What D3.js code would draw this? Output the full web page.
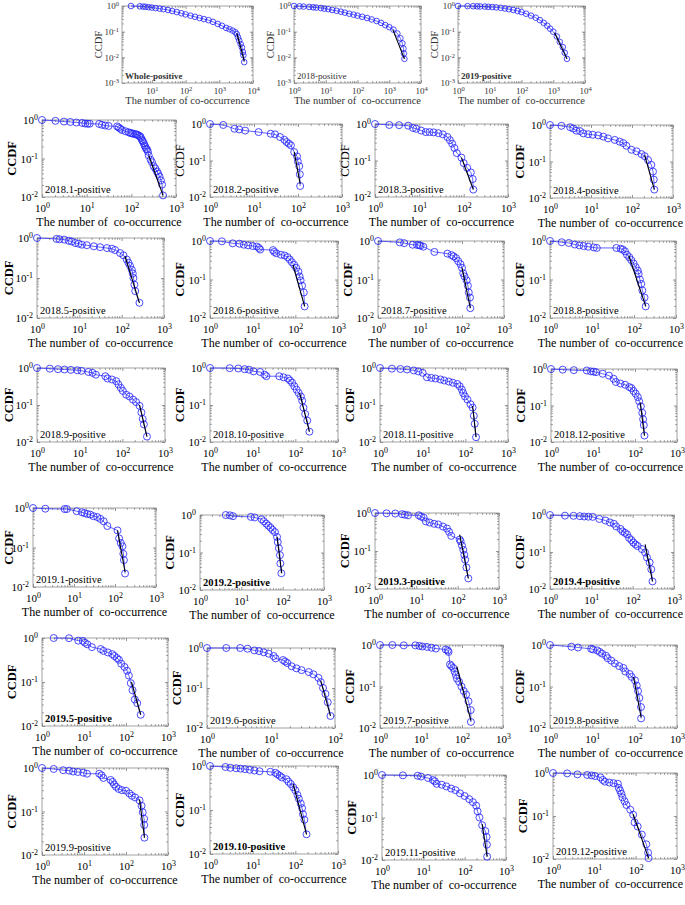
<!DOCTYPE html>
<html>
<head>
<meta charset="utf-8">
<script src="https://d3js.org/d3.v7.min.js"></script>
<style>
  body { margin: 0; background: #fff; }
  svg { display: block; }
  svg text { font-family: "Liberation Serif", "Times New Roman", serif; }
  .frame { fill: none; stroke: #8a8a8a; stroke-width: 0.8; }
  .tick line, .minor { stroke: #666; stroke-width: 0.7; }
  .domain { display: none; }
  .ccdf-pts { fill: none; stroke: #1f1fff; stroke-width: 0.8; }
  .ccdf-line { fill: none; stroke: #1f1fff; stroke-width: 0.7; }
  .fit { stroke: #000; stroke-width: 1.1; }
  .xtitle { white-space: pre; }
</style>
</head>
<body>
<script>
// panel names (in reading order)
const panelNames = ["Whole-positive", "2018-positive", "2019-positive",
  "2018.1-positive", "2018.2-positive", "2018.3-positive", "2018.4-positive",
  "2018.5-positive", "2018.6-positive", "2018.7-positive", "2018.8-positive",
  "2018.9-positive", "2018.10-positive", "2018.11-positive", "2018.12-positive",
  "2019.1-positive", "2019.2-positive", "2019.3-positive", "2019.4-positive",
  "2019.5-positive", "2019.6-positive", "2019.7-positive", "2019.8-positive",
  "2019.9-positive", "2019.10-positive", "2019.11-positive", "2019.12-positive"];

// CCDF points, [number of co-occurrence, CCDF]
const whole = [[2.4,1],[4.4,0.97],[5.5,0.95],[6.5,0.93],[8,0.9],[10,0.87],[13,0.83],[17,0.79],[22,0.75],[30,0.7],[40,0.64],[55,0.58],[75,0.52],[100,0.47],[140,0.42],[190,0.38],[260,0.34],[350,0.31],[480,0.28],[650,0.24],[900,0.2],[1200,0.17],[1600,0.14],[2000,0.125],[2500,0.11],[3000,0.095],[3300,0.08],[3600,0.06],[3900,0.045],[4300,0.033],[4700,0.024],[5000,0.016],[5200,0.012],[5500,0.0065]];
const y2018 = [[1,1],[1.5,0.97],[2,0.95],[3,0.92],[4,0.89],[5,0.87],[7,0.83],[9,0.79],[12,0.75],[16,0.7],[22,0.65],[30,0.6],[40,0.55],[55,0.5],[75,0.46],[100,0.42],[140,0.38],[200,0.34],[280,0.3],[400,0.26],[550,0.22],[750,0.18],[1000,0.15],[1350,0.12],[1800,0.085],[2250,0.055],[2600,0.035],[2800,0.022],[2900,0.014],[3000,0.0087]];
const y2019 = [[1,1],[2,0.99],[3,0.98],[4,0.97],[5,0.96],[7,0.95],[9,0.93],[12,0.91],[16,0.88],[22,0.85],[30,0.8],[40,0.75],[55,0.7],[75,0.64],[100,0.58],[140,0.5],[200,0.42],[280,0.35],[380,0.28],[500,0.22],[650,0.17],[800,0.13],[1000,0.1],[1300,0.065],[1600,0.04],[2000,0.025],[2300,0.015],[2700,0.0087]];
const m2018_1 = [[1,1],[2,0.95],[3.1,0.91],[4.3,0.89],[5.9,0.86],[7.9,0.84],[9.3,0.81],[10.5,0.8],[11.7,0.8],[19,0.79],[22,0.75],[26,0.72],[31,0.7],[48,0.68],[52,0.64],[57,0.59],[62,0.55],[74,0.51],[87,0.48],[95,0.46],[103,0.45],[110,0.44],[123,0.43],[130,0.42],[138,0.41],[150,0.39],[159,0.37],[165,0.34],[174,0.3],[180,0.28],[190,0.25],[198,0.22],[206,0.2],[215,0.18],[225,0.17],[235,0.15],[245,0.12],[270,0.093],[290,0.08],[316,0.063],[345,0.055],[375,0.046],[400,0.04],[428,0.034],[460,0.027],[488,0.021],[513,0.011]];
const m2018_2 = [[1,1],[2,0.94],[3.6,0.74],[4.6,0.71],[6.3,0.66],[12.7,0.6],[24,0.54],[30,0.52],[39,0.44],[49,0.37],[55,0.32],[62,0.29],[69,0.26],[82,0.17],[95,0.13],[99,0.095],[107,0.07],[110,0.042],[112,0.02]];
const m2018_3 = [[1,1],[2.1,0.94],[3.5,0.93],[5.6,0.9],[7.2,0.78],[8.5,0.74],[11,0.66],[14,0.6],[17,0.6],[21,0.59],[27,0.56],[34,0.52],[43,0.44],[49,0.36],[55,0.29],[62,0.22],[70,0.16],[89,0.12],[100,0.085],[120,0.063],[145,0.047],[160,0.031],[165,0.016]];
const m2018_4 = [[1,1],[1.9,0.95],[3.1,0.87],[3.7,0.8],[4.4,0.7],[5.4,0.68],[6.5,0.59],[8.5,0.56],[11,0.54],[15,0.52],[20,0.48],[26,0.43],[38,0.39],[50,0.35],[61,0.32],[73,0.27],[97,0.21],[129,0.19],[170,0.16],[204,0.14],[246,0.11],[296,0.081],[325,0.053],[340,0.032],[350,0.017]];
const m2018_5 = [[1,1],[2.9,0.95],[3.4,0.93],[4.4,0.91],[5.6,0.85],[6.6,0.82],[8,0.75],[9.6,0.72],[11.5,0.68],[15,0.66],[22,0.62],[31,0.59],[45,0.56],[59,0.54],[70,0.5],[92,0.42],[110,0.37],[132,0.29],[145,0.24],[158,0.2],[174,0.16],[183,0.13],[190,0.1],[200,0.068],[209,0.047],[263,0.024]];
const m2018_6 = [[1,1],[1.9,0.98],[3.4,0.87],[4.9,0.85],[6.2,0.8],[7.8,0.77],[10,0.74],[12.5,0.72],[14,0.66],[15,0.6],[30,0.58],[32,0.52],[36,0.48],[46,0.44],[56,0.42],[66,0.38],[74,0.33],[83,0.28],[94,0.24],[105,0.2],[118,0.16],[126,0.12],[133,0.095],[144,0.069],[158,0.046],[165,0.02]];
const m2018_7 = [[1,1],[3.3,0.92],[4.2,0.88],[6.7,0.8],[8.5,0.79],[9.6,0.78],[10.3,0.76],[12,0.71],[22,0.52],[45,0.47],[56,0.43],[63,0.4],[72,0.36],[81,0.3],[92,0.25],[100,0.2],[107,0.145],[115,0.12],[129,0.095],[138,0.069],[145,0.046],[155,0.034],[158,0.018]];
const m2018_8 = [[1,1],[1.9,0.93],[2.8,0.89],[3.9,0.81],[5,0.77],[6.3,0.74],[8.1,0.71],[11,0.68],[13,0.66],[38,0.66],[48,0.63],[54,0.6],[61,0.54],[68,0.44],[77,0.38],[86,0.32],[98,0.26],[110,0.21],[123,0.17],[129,0.14],[138,0.1],[149,0.077],[158,0.052],[178,0.034],[190,0.02]];
const m2018_9 = [[1,1],[2,0.96],[3.1,0.93],[4.4,0.91],[6.2,0.89],[8.8,0.87],[11,0.84],[16,0.78],[20,0.74],[24,0.66],[40,0.6],[45,0.52],[57,0.49],[72,0.44],[81,0.36],[92,0.29],[103,0.24],[123,0.19],[147,0.17],[178,0.14],[210,0.12],[253,0.095],[280,0.063],[300,0.042],[320,0.03],[378,0.014]];
const m2018_10 = [[1,1],[2.9,0.99],[4.6,0.97],[6.5,0.93],[8.2,0.9],[10.5,0.81],[15,0.78],[19,0.66],[21,0.6],[42,0.6],[53,0.56],[67,0.52],[75,0.46],[84,0.4],[95,0.32],[107,0.26],[120,0.21],[135,0.17],[145,0.13],[155,0.085],[170,0.057],[190,0.038],[214,0.019]];
const m2018_11 = [[1,1],[1.9,0.96],[3,0.94],[4.3,0.91],[6.2,0.86],[7.9,0.81],[10,0.74],[12.6,0.56],[16,0.54],[20,0.52],[26,0.49],[32,0.46],[41,0.43],[51,0.4],[65,0.37],[74,0.32],[83,0.26],[89,0.21],[98,0.17],[112,0.14],[132,0.105],[148,0.085],[158,0.051],[166,0.031],[178,0.0135]];
const m2018_12 = [[1,1],[1.9,0.96],[3.5,0.93],[7.1,0.91],[8.9,0.86],[10.3,0.85],[11.8,0.82],[17,0.74],[24,0.66],[31,0.54],[35,0.44],[45,0.4],[58,0.37],[73,0.32],[82,0.3],[92,0.25],[104,0.21],[117,0.17],[126,0.13],[138,0.095],[149,0.063],[156,0.042],[162,0.029],[168,0.015]];
const m2019_1 = [[1,1],[2,0.96],[5.9,0.94],[6.7,0.94],[11.6,0.83],[15.6,0.78],[18,0.74],[21,0.71],[25,0.68],[30,0.62],[37,0.59],[44,0.53],[53,0.46],[65,0.35],[115,0.27],[126,0.17],[138,0.13],[152,0.107],[160,0.069],[165,0.048],[176,0.022]];
const m2019_2 = [[4.2,1],[5.3,0.98],[6.3,0.93],[17,0.89],[21,0.86],[31,0.77],[35,0.68],[40,0.59],[45,0.52],[51,0.46],[57,0.4],[65,0.35],[73,0.26],[76,0.19],[81,0.13],[86,0.085],[88,0.051],[93,0.028]];
const m2019_3 = [[1,1],[1.9,0.98],[3.1,0.97],[4.5,0.93],[5.3,0.9],[6.3,0.87],[11.5,0.87],[13,0.8],[15,0.76],[17,0.6],[21,0.56],[27,0.52],[34,0.5],[44,0.44],[55,0.39],[62,0.32],[70,0.25],[112,0.2],[118,0.18],[127,0.14],[137,0.107],[145,0.079],[152,0.059],[163,0.037],[181,0.019]];
const m2019_4 = [[1,1],[2.3,0.96],[3.7,0.95],[5.3,0.93],[6.7,0.91],[8.5,0.9],[10.8,0.89],[15.6,0.78],[22,0.71],[28,0.63],[35,0.58],[40,0.49],[51,0.42],[57,0.36],[65,0.33],[73,0.3],[82,0.24],[93,0.21],[104,0.18],[117,0.16],[132,0.145],[167,0.12],[200,0.097],[222,0.071],[257,0.052],[282,0.034],[302,0.016]];
const m2019_5 = [[1.9,1],[4.4,0.99],[7.3,0.87],[9.4,0.86],[10.5,0.78],[12,0.72],[15.4,0.62],[25,0.56],[29,0.51],[37,0.47],[47,0.43],[53,0.39],[61,0.35],[68,0.32],[77,0.26],[92,0.22],[106,0.18],[117,0.14],[130,0.094],[143,0.065],[162,0.04],[185,0.033],[224,0.018]];
const m2019_6 = [[1,1],[2,1],[3.3,1],[4.3,0.96],[5.5,0.87],[6.5,0.84],[7.7,0.78],[9.2,0.72],[11,0.63],[11.8,0.55],[15.4,0.5],[16.6,0.46],[18,0.42],[21,0.35],[25,0.31],[30,0.28],[39,0.25],[46,0.22],[55,0.18],[60,0.14],[65,0.1],[71,0.071],[77,0.044],[85,0.02]];
const m2019_7 = [[1,1],[2,1],[3.8,0.98],[7.3,0.98],[9.1,0.95],[10.8,0.92],[14,0.9],[18,0.86],[23,0.82],[40,0.78],[45,0.74],[47,0.68],[51,0.34],[55,0.31],[61,0.28],[66,0.23],[71,0.19],[75,0.155],[85,0.13],[97,0.1],[110,0.078],[126,0.064],[144,0.044],[163,0.027],[165,0.014]];
const m2019_8 = [[1,1],[3.2,0.91],[4.6,0.87],[9.4,0.81],[10.4,0.78],[13,0.74],[15,0.68],[17,0.62],[21,0.55],[23,0.48],[28,0.42],[34,0.36],[43,0.31],[54,0.28],[60,0.23],[76,0.2],[85,0.17],[102,0.14],[112,0.105],[120,0.078],[129,0.053],[141,0.032],[142,0.017]];
const m2019_9 = [[1,1],[1.9,0.95],[3.2,0.89],[4.4,0.87],[5.5,0.83],[7.1,0.81],[9.6,0.78],[11.8,0.74],[23,0.74],[26,0.68],[29,0.59],[43,0.53],[48,0.48],[52,0.42],[58,0.37],[67,0.33],[80,0.31],[100,0.3],[120,0.26],[138,0.23],[165,0.21],[210,0.18],[235,0.135],[250,0.096],[270,0.068],[272,0.049],[275,0.025]];
const m2019_10 = [[1,1],[2.3,0.95],[3,0.91],[4.1,0.89],[5.2,0.87],[6.6,0.85],[8.5,0.82],[11,0.79],[14.5,0.76],[26,0.74],[34,0.7],[38,0.65],[43,0.6],[48,0.55],[62,0.5],[69,0.44],[78,0.39],[89,0.33],[100,0.28],[112,0.22],[121,0.18],[134,0.14],[144,0.11],[151,0.08],[163,0.06],[183,0.028]];
const m2019_11 = [[1,1],[3.2,0.98],[7.3,0.96],[8.8,0.92],[13,0.85],[17,0.76],[19,0.71],[21,0.62],[28,0.59],[36,0.54],[47,0.48],[60,0.44],[77,0.37],[100,0.32],[129,0.27],[158,0.23],[190,0.19],[205,0.14],[228,0.1],[265,0.066],[316,0.048],[340,0.035],[345,0.023],[350,0.012]];
const m2019_12 = [[1,1],[2.2,0.98],[3.9,0.93],[6.7,0.9],[8.6,0.88],[10.4,0.85],[14,0.79],[16,0.69],[18,0.63],[23,0.6],[29,0.58],[37,0.56],[39,0.45],[42,0.39],[45,0.33],[48,0.27],[54,0.22],[60,0.18],[74,0.14],[87,0.107],[94,0.071],[112,0.057],[141,0.037],[181,0.022],[200,0.014],[205,0.0105]];

const series = [whole, y2018, y2019,
  m2018_1, m2018_2, m2018_3, m2018_4, m2018_5, m2018_6, m2018_7, m2018_8,
  m2018_9, m2018_10, m2018_11, m2018_12,
  m2019_1, m2019_2, m2019_3, m2019_4, m2019_5, m2019_6, m2019_7, m2019_8,
  m2019_9, m2019_10, m2019_11, m2019_12];

// power-law fit segments [x0, y0, x1, y1]
const fits = [[3300,0.087,5500,0.0072],[1300,0.12,3000,0.0087],[1100,0.09,2700,0.0087],
  [245,0.12,513,0.011],[82,0.17,112,0.023],[89,0.12,165,0.016],[204,0.15,350,0.017],
  [120,0.35,263,0.024],[88,0.24,165,0.02],[100,0.2,158,0.018],[75,0.42,190,0.02],
  [253,0.1,378,0.014],[126,0.21,214,0.019],[148,0.095,178,0.0135],[133,0.12,168,0.015],
  [115,0.27,176,0.024],[73,0.26,95,0.028],[112,0.27,181,0.019],[200,0.16,302,0.016],
  [135,0.1,224,0.018],[60,0.15,85,0.02],[75,0.3,165,0.015],[94,0.17,142,0.018],
  [210,0.19,275,0.025],[89,0.39,183,0.028],[265,0.07,350,0.012],[87,0.11,205,0.0105]];

// axis ranges
const xDomains = [[1.3,1e4],[1,1e4],[1,1e4]];   // others: [1,1e3], 2019.6: [1,1e2]
const yDomainTop = [1e-3, 1], yDomainMonth = [1e-2, 1];

// layout: frame [x, y, w, h] of each panel
const layout = [
  [122,6,131,77],[294,6,127,77],[458,6,127,77],
  [42,120,134,77],[210,124,132,73],[375,124,133,73],[550,125,123,73],
  [37,238,127,80],[210,241,128,77],[378,241,126,77],[550,241,126,77],
  [37,368,128,74],[210,368,128,74],[380,368,128,74],[551,369,126,73],
  [33,508,123,79],[200,515,124,75],[375,513,124,76],[550,515,124,74],
  [42,638,126,88],[207,648,128,80],[380,645,123,83],[550,645,127,83],
  [42,768,126,87],[210,766,128,88],[382,775,124,85],[553,773,124,86]];
const boldLabel = new Set(["2019-positive","Whole-positive","2019.2-positive","2019.3-positive","2019.4-positive","2019.5-positive","2019.10-positive"]);
const lightCCDF = new Set([0,1,2,4,5]);

const width = 685, height = 905;
const svg = d3.select("body").append("svg")
    .attr("width", width)
    .attr("height", height);

panelNames.forEach((name, i) => drawPanel(i, name));

function supLabels(sel, size) {
  sel.each(function(d) {
    const t = d3.select(this).text(null);
    t.append("tspan").text("10");
    t.append("tspan").attr("dy", "-0.45em").attr("font-size", size * 0.72)
      .text(Math.round(Math.log10(d)));
  });
}

function drawPanel(i, name) {
  const [fx, fy, fw, fh] = layout[i];
  const top = i < 3;
  const xdom = top ? xDomains[i] : (name === "2019.6-positive" ? [1, 1e2] : [1, 1e3]);
  const ydom = top ? yDomainTop : yDomainMonth;
  const fs = top ? 9 : 11;
  const txt = top ? "#333" : "#000";

  const x = d3.scaleLog().domain(xdom).range([fx, fx + fw]);
  const y = d3.scaleLog().domain(ydom).range([fy + fh, fy]);

  const g = svg.append("g");

  const xt = d3.range(Math.ceil(Math.log10(xdom[0])), Math.log10(xdom[1]) + 1).map(e => Math.pow(10, e));
  const yt = d3.range(Math.log10(ydom[0]), 1).map(e => Math.pow(10, e));

  // minor ticks
  const minorX = [], minorY = [];
  xt.concat([xt[0] / 10]).forEach(b => d3.range(2, 10).forEach(k => { const v = b * k; if (v > xdom[0] && v < xdom[1]) minorX.push(v); }));
  yt.forEach(b => d3.range(2, 10).forEach(k => { const v = b * k; if (v < 1) minorY.push(v); }));
  g.selectAll(".mx").data(minorX).enter().append("path").attr("class", "minor")
    .attr("d", d => `M${x(d)},${fy + fh}v-1.8M${x(d)},${fy}v1.8`);
  g.selectAll(".my").data(minorY).enter().append("path").attr("class", "minor")
    .attr("d", d => `M${fx},${y(d)}h1.8M${fx + fw},${y(d)}h-1.8`);

  const xAxis = g.append("g").attr("transform", `translate(0,${fy + fh})`)
    .call(d3.axisBottom(x).tickValues(xt).tickSizeInner(-3).tickSizeOuter(0).tickPadding(top ? 5 : 7))
    .attr("font-family", null).attr("font-size", null);
  xAxis.selectAll("text").attr("font-size", fs).attr("fill", txt).call(supLabels, fs);
  g.append("g").attr("transform", `translate(0,${fy})`)
    .call(d3.axisTop(x).tickValues(xt).tickSizeInner(-3).tickSizeOuter(0).tickFormat(""));

  const yAxis = g.append("g").attr("transform", `translate(${fx},0)`)
    .call(d3.axisLeft(y).tickValues(yt).tickSizeInner(-3).tickSizeOuter(0).tickPadding(top ? 3 : 4))
    .attr("font-family", null).attr("font-size", null);
  yAxis.selectAll("text").attr("font-size", fs).attr("fill", txt).call(supLabels, fs);
  g.append("g").attr("transform", `translate(${fx + fw},0)`)
    .call(d3.axisRight(y).tickValues(yt).tickSizeInner(-3).tickSizeOuter(0).tickFormat(""));

  g.append("rect").attr("class", "frame")
    .attr("x", fx).attr("y", fy).attr("width", fw).attr("height", fh);

  // data
  const pts = series[i];
  g.append("path").attr("class", "ccdf-line")
    .attr("d", d3.line().x(d => x(d[0])).y(d => y(d[1]))(pts));
  g.selectAll("circle").data(pts).enter().append("circle")
    .attr("class", "ccdf-pts")
    .attr("cx", d => x(d[0]))
    .attr("cy", d => y(d[1]))
    .attr("r", top ? 2.8 : 3.5);

  const f = fits[i];
  g.append("line").attr("class", "fit")
    .attr("x1", x(f[0])).attr("y1", y(f[1]))
    .attr("x2", x(f[2])).attr("y2", y(f[3]));

  // labels
  g.append("text")
    .attr("x", fx + 3).attr("y", fy + fh - 4)
    .attr("font-size", top ? 9 : 10.5)
    .attr("font-weight", boldLabel.has(name) ? "bold" : "normal")
    .attr("fill", txt)
    .text(name);

  g.append("text")
    .attr("transform", `translate(${Math.max(fx - (top ? 20 : 26), 13)},${fy + fh / 2}) rotate(-90)`)
    .attr("text-anchor", "middle")
    .attr("font-size", top ? 10.5 : 12.5)
    .attr("font-weight", lightCCDF.has(i) ? "normal" : "bold")
    .attr("fill", txt)
    .text("CCDF");

  const title = g.append("text").attr("class", "xtitle")
    .attr("x", fx + fw / 2).attr("y", fy + fh + (top ? 21 : 29))
    .attr("text-anchor", "middle")
    .attr("font-size", top ? 10.5 : 12)
    .attr("fill", txt)
    .text(i === 0 ? "The number of co-occurrence" : "The number of  co-occurrence");
  // keep the title inside the page
  const half = title.node().getComputedTextLength() / 2;
  title.attr("x", Math.min(fx + fw / 2, width - 2 - half));
}
</script>
</body>
</html>
